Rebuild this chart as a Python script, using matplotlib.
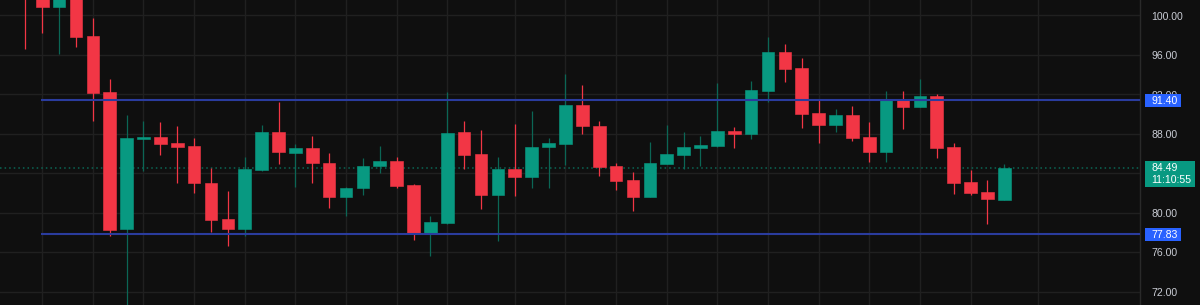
import matplotlib
matplotlib.use("Agg")
import matplotlib.pyplot as plt
import matplotlib.transforms as mtransforms
from matplotlib.patches import Rectangle

plt.rcParams["font.family"] = ["Liberation Sans", "DejaVu Sans"]

# ── data ──────────────────────────────────────────────────────────────────────
OPEN = [103.5, 102.5, 100.87, 102.2, 97.90, 92.23, 78.31, 87.50, 87.67, 87.06,
        86.76, 83.04, 79.33, 78.38, 84.32, 88.14, 86.09, 86.56, 85.07, 81.62,
        82.47, 84.73, 85.24, 82.81, 77.88, 79.00, 88.14, 85.95, 81.79, 84.43,
        83.58, 86.62, 86.96, 90.94, 88.82, 84.73, 83.31, 81.62, 84.93, 85.88,
        86.59, 86.79, 88.25, 88.01, 92.33, 96.28, 94.66, 90.07, 88.92, 89.90,
        87.67, 86.18, 91.42, 90.74, 91.82, 86.66, 83.14, 82.13, 81.32]
HIGH = [104.2, 103.0, 102.8, 102.9, 99.76, 93.51, 89.90, 89.29, 89.16, 88.78,
        87.54, 84.56, 82.22, 85.68, 88.88, 91.25, 86.96, 87.74, 86.09, 82.64,
        85.54, 86.79, 85.68, 82.91, 79.67, 92.20, 89.33, 88.38, 85.68, 88.99,
        90.30, 87.57, 94.05, 92.97, 89.33, 85.07, 84.16, 87.13, 88.88, 88.14,
        87.74, 93.11, 88.72, 93.31, 97.77, 97.06, 95.67, 91.49, 90.51, 90.81,
        89.23, 92.33, 92.33, 93.58, 92.03, 87.10, 84.33, 83.31, 84.90]
LOW = [96.60, 98.17, 96.05, 96.75, 89.32, 77.67, 70.00, 84.26, 85.85, 83.01,
       81.96, 78.08, 76.63, 77.60, 84.26, 84.93, 82.64, 83.01, 80.51, 79.70,
       81.79, 84.05, 82.54, 77.24, 75.65, 78.83, 84.43, 80.38, 77.17, 81.72,
       82.47, 82.54, 84.83, 87.97, 83.76, 82.30, 80.21, 81.62, 84.93, 84.43,
       84.76, 86.69, 86.55, 87.50, 91.25, 93.28, 88.62, 87.03, 88.18, 87.23,
       85.17, 85.17, 88.48, 90.74, 85.51, 81.86, 81.79, 78.89, 81.25]
CLOSE = [102.3, 100.87, 102.2, 97.84, 92.16, 78.28, 87.57, 87.60, 86.96, 86.69,
         83.01, 79.26, 78.38, 84.39, 88.14, 86.12, 86.52, 85.04, 81.62, 82.54,
         84.73, 85.21, 82.74, 77.88, 79.06, 88.11, 85.88, 81.79, 84.39, 83.58,
         86.69, 87.03, 90.91, 88.75, 84.66, 83.21, 81.62, 85.00, 85.95, 86.62,
         86.86, 88.25, 88.01, 92.40, 96.32, 94.56, 90.03, 88.92, 89.90, 87.60,
         86.18, 91.45, 90.74, 91.79, 86.56, 83.04, 81.99, 81.35, 84.49]

LEVELS = [91.40, 77.83]
LAST_PRICE = 84.49
COUNTDOWN = "11:10:55"
PRICE_TICKS = [72, 76, 80, 84, 88, 92, 96, 100]
TIME_GRID = [1, 4, 7, 10, 13, 16, 19, 22, 25, 29, 32, 35, 38, 41, 44, 47, 50,
             53, 56, 60]

# ── style ─────────────────────────────────────────────────────────────────────
BG = "#0f0f0f"
GRID = "#202020"
UP, DOWN = "#089981", "#f23645"
UP_WICK = "#0b6655"
LEVEL_BLUE = "#2a3c9e"
LABEL_BLUE = "#2962ff"
TXT = "#c9ccd4"
FS = 7.6

W, H = 1200, 305
fig = plt.figure(figsize=(W / 100, H / 100), dpi=100)
fig.patch.set_facecolor(BG)
ax = fig.add_axes([0, 0, 1140 / W, 1])
ax.set_facecolor(BG)
ax.set_xlim(-1.5, 66.04)
ax.set_ylim(70.65, 101.55)

for s in ("top", "left", "bottom"):
    ax.spines[s].set_visible(False)
ax.spines["right"].set_color("#2a2a2a")
ax.spines["right"].set_linewidth(1)
ax.set_xticks([])

for t in PRICE_TICKS:
    ax.axhline(t, color=GRID, lw=1, zorder=0)
for g in TIME_GRID:
    ax.axvline(g, color=GRID, lw=1, zorder=0)

ax.yaxis.tick_right()
ax.set_yticks(PRICE_TICKS)
ax.set_yticklabels([f"{t:.2f}" for t in PRICE_TICKS])
ax.tick_params(axis="y", length=0, pad=8, labelsize=FS, labelcolor=TXT)
for lab in ax.get_yticklabels():
    lab.set_va("bottom")
    lab.set_transform(lab.get_transform() +
                      mtransforms.ScaledTranslation(0, -4.5 / 72,
                                                    fig.dpi_scale_trans))

# candles
bw = 0.75
for i, (o, h, l, c) in enumerate(zip(OPEN, HIGH, LOW, CLOSE)):
    up = c >= o
    col = UP if up else DOWN
    ax.vlines(i, l, h, color=UP_WICK if up else DOWN, lw=0.9, zorder=2)
    lo, hi = min(o, c), max(o, c)
    ax.add_patch(Rectangle((i - bw / 2, lo), bw, max(hi - lo, 0.12),
                           facecolor=col, edgecolor=col, lw=0.4, zorder=3))

# horizontal levels + last price
for lv in LEVELS:
    ax.hlines(lv, 0.93, 66.04, color=LEVEL_BLUE, lw=1.5, zorder=4)
ax.axhline(LAST_PRICE, color=UP_WICK, lw=1.1, ls=(0, (1, 2)), zorder=1)

# price labels on the axis
trans = mtransforms.blended_transform_factory(fig.transFigure, ax.transData)
px = 1 / 9.87  # price units per pixel
for lv in LEVELS:
    ax.add_patch(Rectangle((1145 / W, lv - 7.3 * px), 36 / W, 13 * px,
                           transform=trans, facecolor=LABEL_BLUE, lw=0,
                           clip_on=False, zorder=10))
    ax.text(1151 / W, lv - 0.8 * px, f"{lv:.2f}", transform=trans,
            color="white", fontsize=FS, ha="left", va="center",
            clip_on=False, zorder=11)

ax.add_patch(Rectangle((1145 / W, LAST_PRICE - 18.3 * px), 50 / W, 26 * px,
                       transform=trans, facecolor=UP, lw=0,
                       clip_on=False, zorder=10))
ax.text(1151 / W, LAST_PRICE + 0.6 * px, f"{LAST_PRICE:.2f}", transform=trans,
        color="white", fontsize=FS, ha="left", va="center", clip_on=False,
        zorder=11)
ax.text(1151 / W, LAST_PRICE - 11.8 * px, COUNTDOWN, transform=trans,
        color="white", fontsize=FS, ha="left", va="center", clip_on=False,
        zorder=11)

fig.savefig("out.png", dpi=100, facecolor=fig.get_facecolor())
